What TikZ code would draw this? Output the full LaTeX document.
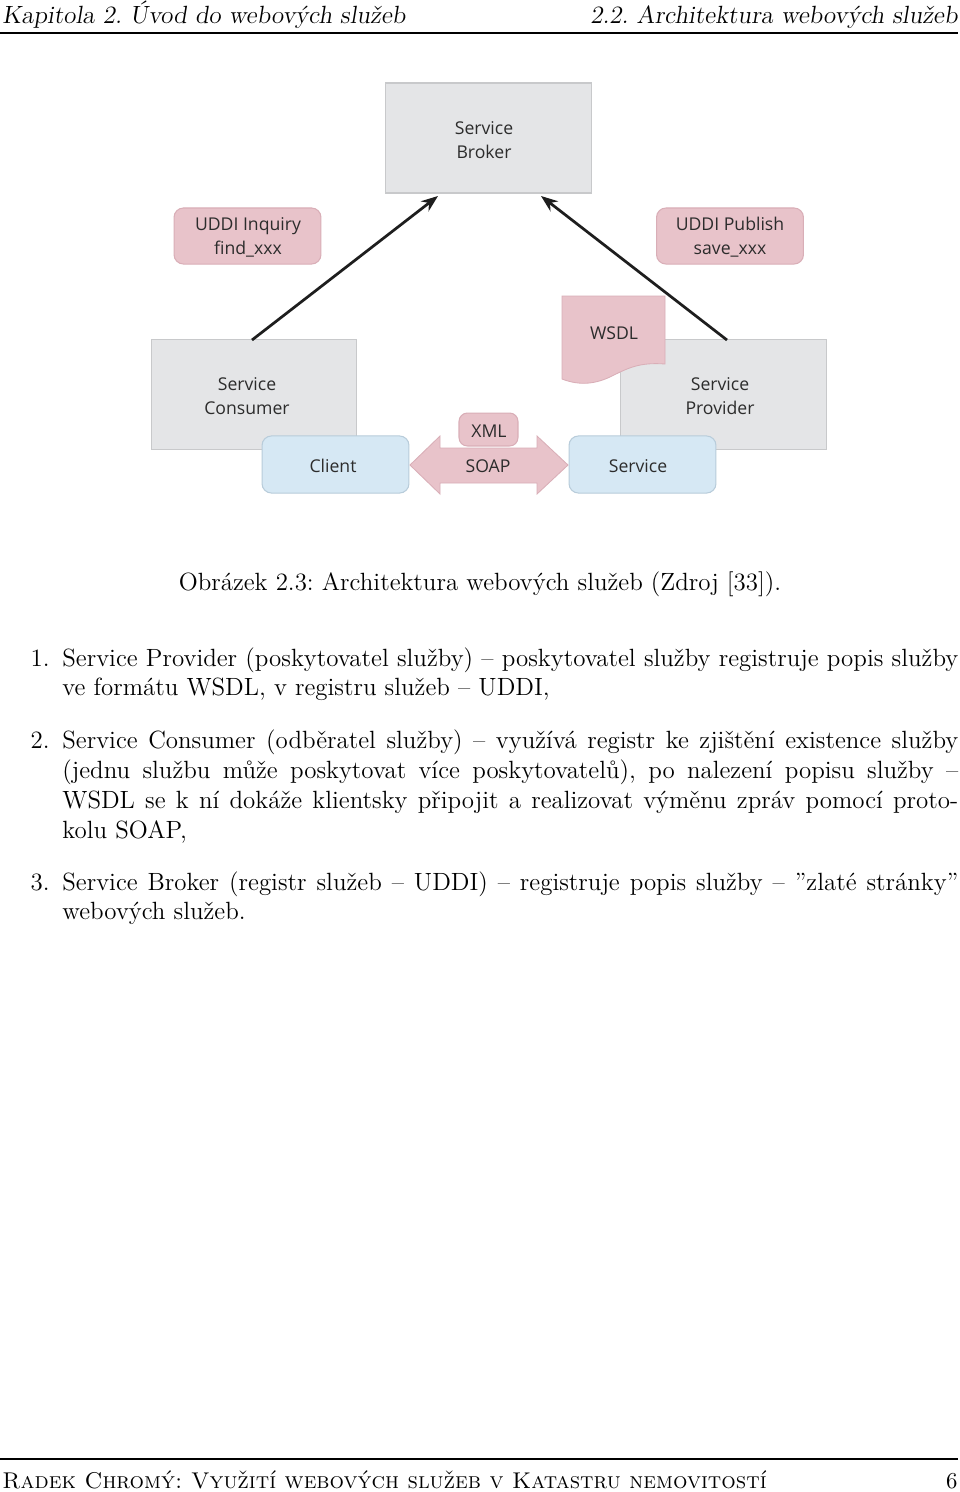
\documentclass[tikz,border=0pt]{standalone}
\usepackage{fontspec}
\newfontfamily\diagfont{Open Sans}
\usetikzlibrary{arrows.meta}
\definecolor{boxgrey}{HTML}{E4E5E7}
\definecolor{boxgreyline}{HTML}{C8C9CB}
\definecolor{boxpink}{HTML}{E8C3CA}
\definecolor{boxpinkline}{HTML}{D9AEB7}
\definecolor{boxblue}{HTML}{D6E8F4}
\definecolor{boxblueline}{HTML}{B8CCDA}
\definecolor{diagtext}{HTML}{2C2C2C}
\definecolor{arrowcol}{HTML}{1E1E1E}
\tikzset{
  dtext/.style={text=diagtext, align=center, inner sep=0, font=\diagfont\fontsize{8.4}{11.4}\selectfont},
  greybox/.style={draw=boxgreyline, fill=boxgrey, line width=0.5pt, minimum width=97.7pt, minimum height=52.4pt, inner sep=0, outer sep=0},
  pinkbox/.style={draw=boxpinkline, fill=boxpink, line width=0.5pt, rounded corners=4.5pt, minimum width=70pt, minimum height=26.7pt, inner sep=0, outer sep=0},
  bluebox/.style={draw=boxblueline, fill=boxblue, line width=0.5pt, rounded corners=4.5pt, minimum width=70pt, minimum height=27.2pt, inner sep=0, outer sep=0},
  xmlbox/.style={draw=boxpinkline, fill=boxpink, line width=0.5pt, rounded corners=4pt, minimum width=28.1pt, minimum height=15.7pt, inner sep=0, outer sep=0},
  conn/.style={draw=arrowcol, line width=1.3pt, -{Stealth[length=8pt,width=6pt]}},
  body/.style={anchor=base west, inner sep=0, font=\fontsize{11.88}{14.5}\selectfont},
  lbl/.style={anchor=base east, inner sep=0, font=\fontsize{11.88}{14.5}\selectfont},
  hdr/.style={inner sep=0, font=\fontsize{11.88}{14.5}\selectfont\slshape},
  ftr/.style={inner sep=0, font=\fontsize{10.85}{13.6}\selectfont},
  ftrsc/.style={inner sep=0, font=\fontsize{10.85}{13.6}\selectfont\scshape},
  rulestyle/.style={line width=0.5pt, draw=black}
}
\begin{document}
\frenchspacing
\begin{tikzpicture}[x=0.4764pt, y=-0.4764pt]
\useasboundingbox (0,0) rectangle (960,1492);
\fill[white] (0,0) rectangle (960,1492);

% header
\node[hdr, anchor=base west] (hleft) at (2,23) {Kapitola 2. Úvod do webových služeb};
\node[hdr, anchor=base east] (hright) at (958,23) {2.2. Architektura webových služeb};
\coordinate (hr1) at (0,33);
\coordinate (hr2) at (958,33);
\draw[rulestyle] (hr1) -- (hr2);

% diagram boxes
\node[greybox] (broker) at (488.5,138) {};
\node[dtext] (brokert) at (484,140) {Service\\Broker};
\node[pinkbox] (inquiry) at (247.5,236) {};
\node[dtext] (inquiryt) at (248,237) {UDDI Inquiry\\find\_xxx};
\node[pinkbox] (publish) at (730,236) {};
\node[dtext] (publisht) at (730,237) {UDDI Publish\\save\_xxx};
\node[greybox] (consumer) at (254,394.5) {};
\node[dtext] (consumert) at (247,396) {Service\\Consumer};
\node[greybox] (provider) at (723.5,394.5) {};
\node[dtext] (providert) at (720,396) {Service\\Provider};

% WSDL document
\path[draw=boxpinkline, fill=boxpink, line width=0.4pt]
  (562,296) -- (665,296) -- (665,364)
  .. controls (640,362) and (628,368) .. (612,376)
  .. controls (596,384) and (580,386) .. (562,379) -- cycle;
\node[dtext] (wsdl) at (614,333) {WSDL};

% client / service
\node[bluebox] (client) at (335.5,464.5) {};
\node[dtext] (clientt) at (333,466) {Client};
\node[bluebox] (service) at (642.5,464.5) {};
\node[dtext] (servicet) at (638,466) {Service};

% SOAP double arrow
\path[draw=boxpinkline, fill=boxpink, line width=0.4pt]
  (410,465) -- (440,436) -- (440,448) -- (537,448) -- (537,436) -- (568,465)
  -- (537,494) -- (537,483) -- (440,483) -- (440,494) -- cycle;
\node[dtext] (soap) at (488,466) {SOAP};
\node[xmlbox] (xml) at (488.5,429.5) {};
\node[dtext] (xmlt) at (489,431) {XML};

% connectors
\coordinate (bl) at (438,196);
\coordinate (br) at (541,196);
\coordinate (cs) at (252,340);
\coordinate (ps) at (727,340);
\draw[conn] (cs) -- (bl);
\draw[conn] (ps) -- (br);

% caption
\node[inner sep=0, anchor=base, font=\fontsize{11.88}{14.5}\selectfont] (cap) at (480,590) {Obrázek 2.3: Architektura webových služeb (Zdroj [33]).};

% list
\node[lbl] (n1) at (50,666) {1.};
\node[body] (a1) at (62,666) {\makebox[426.8pt][s]{Service Provider (poskytovatel služby) – poskytovatel služby registruje popis služby}};
\node[body] (a2) at (62,695) {ve formátu WSDL, v registru služeb – UDDI,};

\node[lbl] (n2) at (50,748) {2.};
\node[body] (b1) at (62,748) {\makebox[426.8pt][s]{Service Consumer (odběratel služby) – využívá registr ke zjištění existence služby}};
\node[body] (b2) at (62,778) {\makebox[426.8pt][s]{(jednu službu může poskytovat více poskytovatelů), po nalezení popisu služby –}};
\node[body] (b3) at (62,808) {\makebox[426.8pt][s]{WSDL se k ní dokáže klientsky připojit a realizovat výměnu zpráv pomocí proto-}};
\node[body] (b4) at (62,838) {kolu SOAP,};

\node[lbl] (n3) at (50,890) {3.};
\node[body] (c1) at (62,890) {\makebox[426.8pt][s]{Service Broker (registr služeb – UDDI) – registruje popis služby – ”zlaté stránky”}};
\node[body] (c2) at (62,919) {webových služeb.};

% footer
\coordinate (fr1) at (0,1459);
\coordinate (fr2) at (958,1459);
\draw[rulestyle] (fr1) -- (fr2);
\node[ftrsc, anchor=base west] (fleft) at (2,1488) {Radek Chromý: Využití webových služeb v Katastru nemovitostí};
\node[ftr, anchor=base east] (fright) at (958,1488) {6};
\end{tikzpicture}
\end{document}
